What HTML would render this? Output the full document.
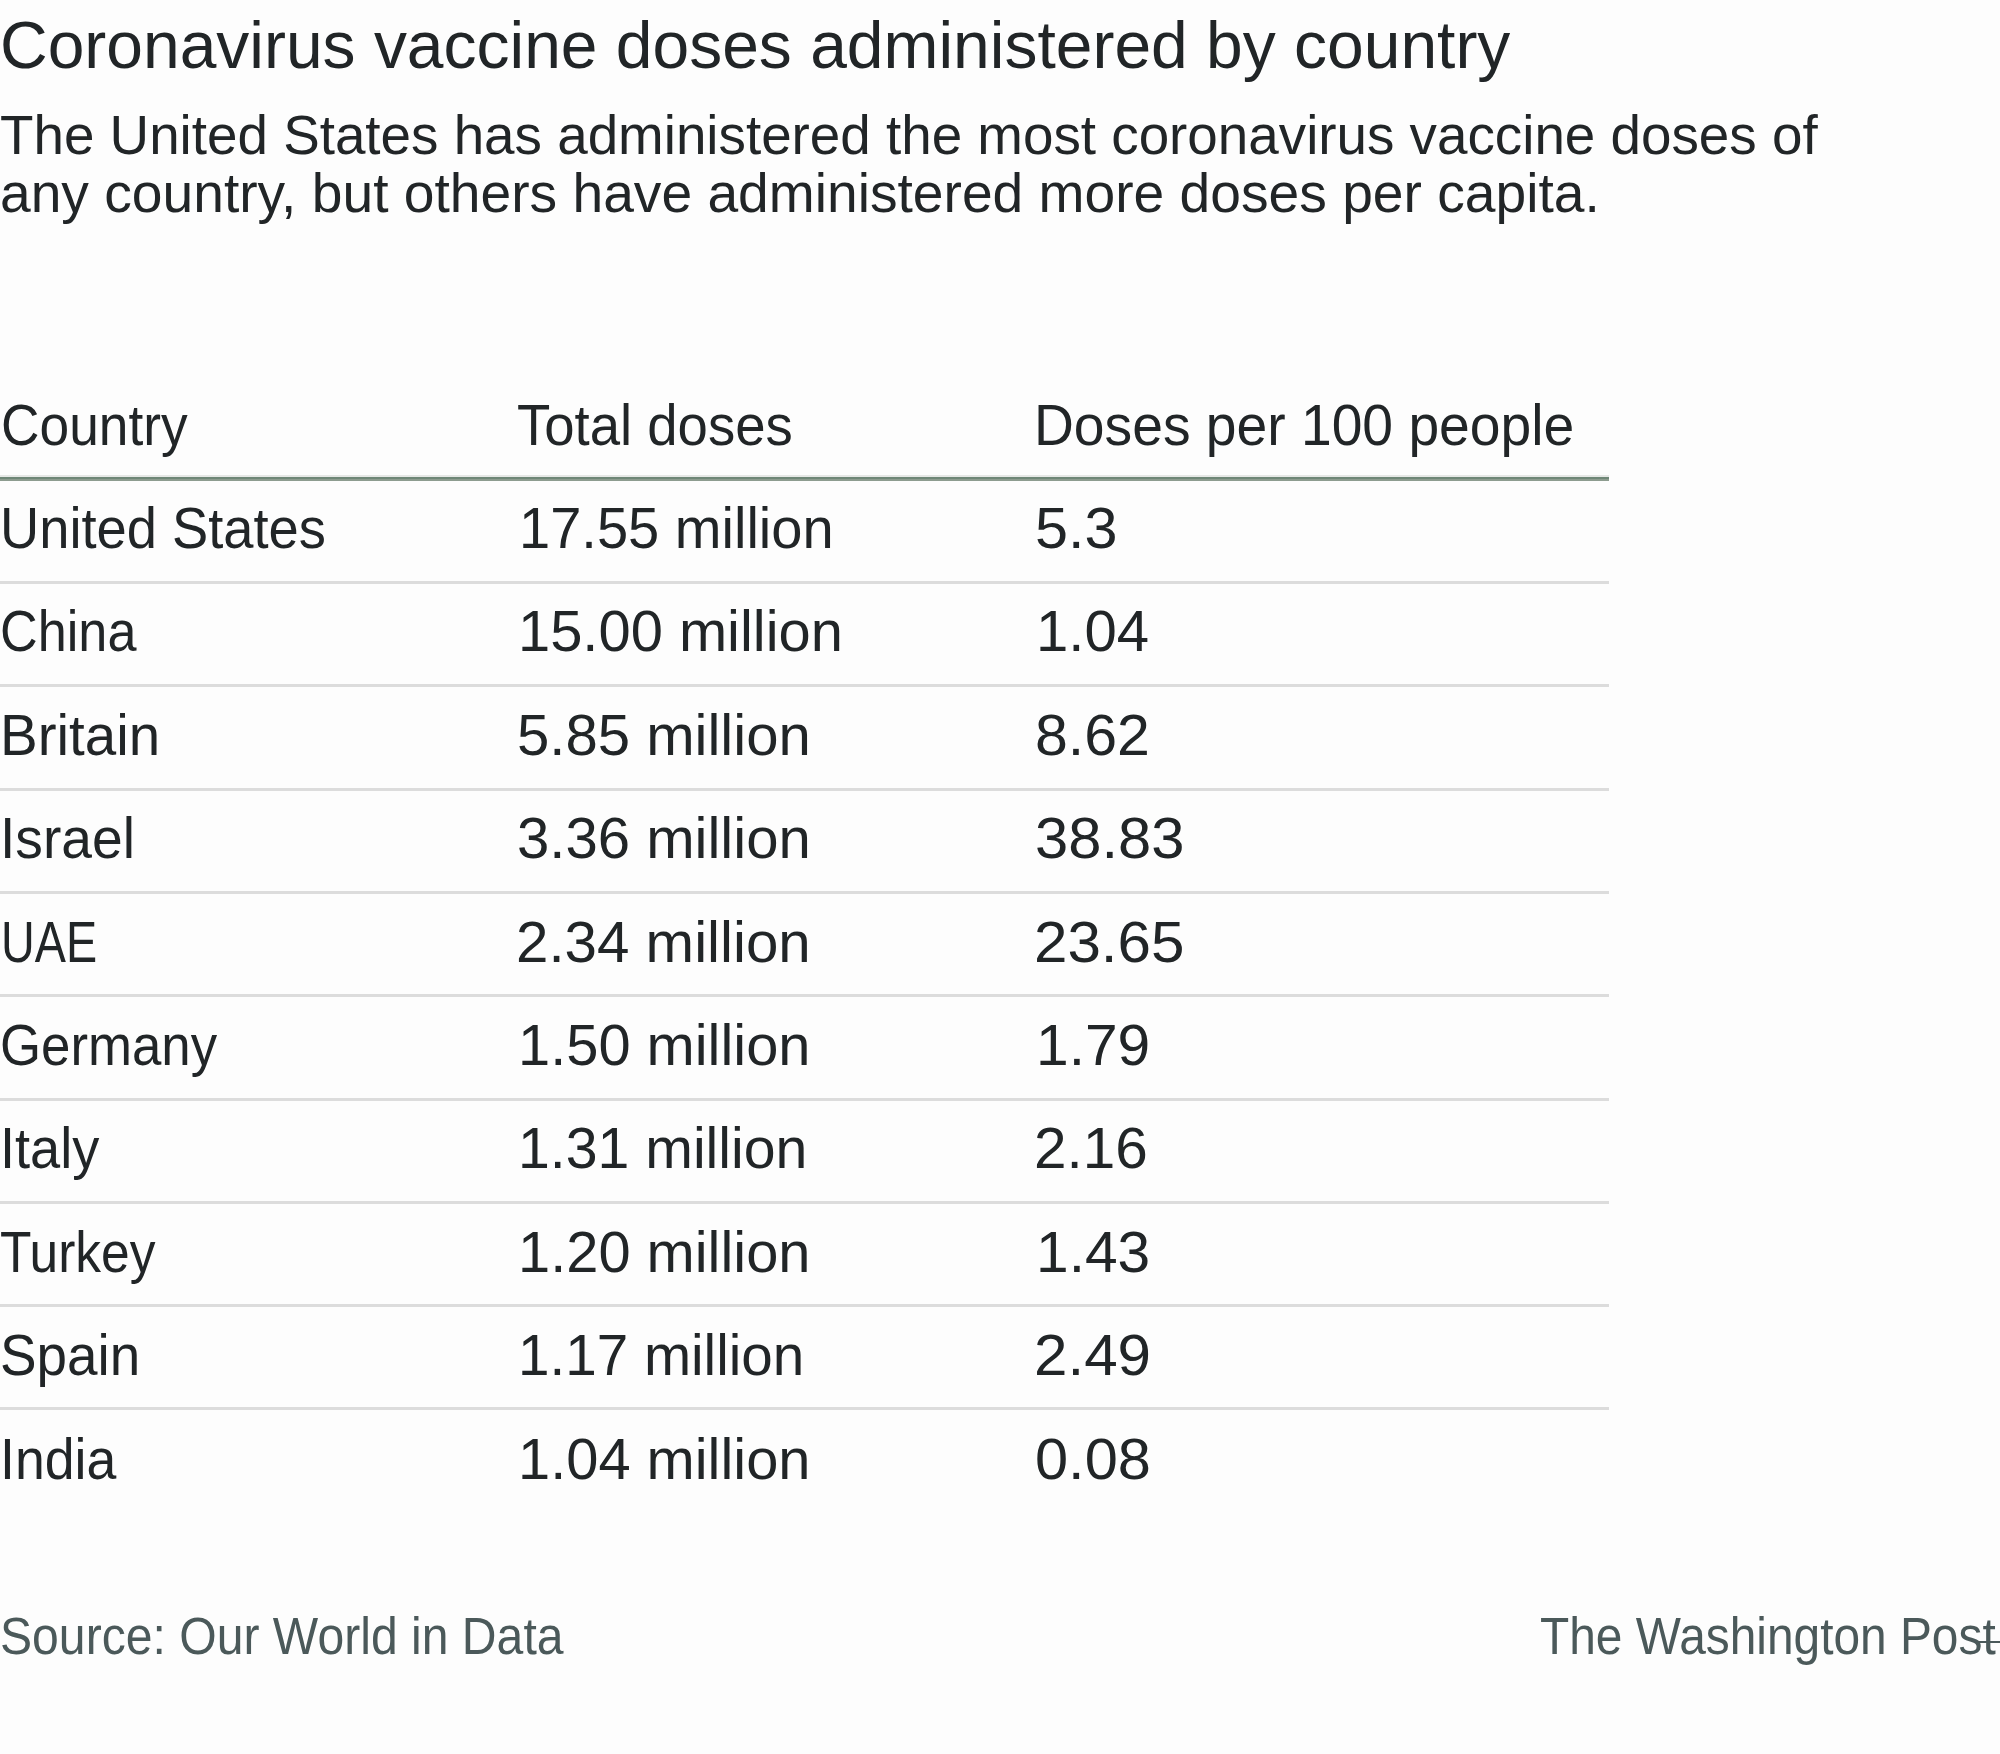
<!DOCTYPE html>
<html><head><meta charset="utf-8"><style>
html,body{margin:0;padding:0;}
body{width:2000px;height:1754px;background:#fdfdfd;position:relative;overflow:hidden;}
.t{position:absolute;font-family:"Liberation Sans",sans-serif;line-height:1;white-space:nowrap;transform-origin:0 0;}
.r{position:absolute;left:0;width:1609px;}
</style></head><body>
<div class="t" style="left:0.00px;top:12.00px;font-size:66px;color:#212527;transform:scaleX(0.9993)">Coronavirus vaccine doses administered by country</div>
<div class="t" style="left:0.00px;top:108.00px;font-size:55px;color:#212527;transform:scaleX(0.9959)">The United States has administered the most coronavirus vaccine doses of</div>
<div class="t" style="left:-0.01px;top:166.00px;font-size:55px;color:#212527;transform:scaleX(1.0031)">any country, but others have administered more doses per capita.</div>
<div class="t" style="left:0.67px;top:398.00px;font-size:56.5px;color:#212527;transform:scaleX(0.9436)">Country</div>
<div class="t" style="left:517.04px;top:398.00px;font-size:56.5px;color:#212527;transform:scaleX(0.9647)">Total doses</div>
<div class="t" style="left:1034.11px;top:398.00px;font-size:56.5px;color:#212527;transform:scaleX(0.9771)">Doses per 100 people</div>
<div class="t" style="left:0.16px;top:501.00px;font-size:56.5px;color:#212527;transform:scaleX(0.9610)">United States</div>
<div class="t" style="left:518.53px;top:501.00px;font-size:56.5px;color:#212527;transform:scaleX(0.9919)">17.55 million</div>
<div class="t" style="left:1035.20px;top:501.00px;font-size:56.5px;color:#212527;transform:scaleX(1.0500)">5.3</div>
<div class="t" style="left:0.23px;top:604.40px;font-size:56.5px;color:#212527;transform:scaleX(0.9241)">China</div>
<div class="t" style="left:518.40px;top:604.40px;font-size:56.5px;color:#212527;transform:scaleX(1.0242)">15.00 million</div>
<div class="t" style="left:1035.88px;top:604.40px;font-size:56.5px;color:#212527;transform:scaleX(1.0288)">1.04</div>
<div class="t" style="left:0.00px;top:707.80px;font-size:56.5px;color:#212527;transform:scaleX(1.0000)">Britain</div>
<div class="t" style="left:517.14px;top:707.80px;font-size:56.5px;color:#212527;transform:scaleX(1.0279)">5.85 million</div>
<div class="t" style="left:1035.21px;top:707.80px;font-size:56.5px;color:#212527;transform:scaleX(1.0448)">8.62</div>
<div class="t" style="left:0.12px;top:811.20px;font-size:56.5px;color:#212527;transform:scaleX(0.9767)">Israel</div>
<div class="t" style="left:517.14px;top:811.20px;font-size:56.5px;color:#212527;transform:scaleX(1.0279)">3.36 million</div>
<div class="t" style="left:1035.19px;top:811.20px;font-size:56.5px;color:#212527;transform:scaleX(1.0562)">38.83</div>
<div class="t" style="left:0.69px;top:914.60px;font-size:56.5px;color:#212527;transform:scaleX(0.8273)">UAE</div>
<div class="t" style="left:516.11px;top:914.60px;font-size:56.5px;color:#212527;transform:scaleX(1.0315)">2.34 million</div>
<div class="t" style="left:1034.11px;top:914.60px;font-size:56.5px;color:#212527;transform:scaleX(1.0640)">23.65</div>
<div class="t" style="left:0.20px;top:1018.00px;font-size:56.5px;color:#212527;transform:scaleX(0.9345)">Germany</div>
<div class="t" style="left:518.41px;top:1018.00px;font-size:56.5px;color:#212527;transform:scaleX(1.0234)">1.50 million</div>
<div class="t" style="left:1035.84px;top:1018.00px;font-size:56.5px;color:#212527;transform:scaleX(1.0388)">1.79</div>
<div class="t" style="left:0.20px;top:1121.40px;font-size:56.5px;color:#212527;transform:scaleX(0.9592)">Italy</div>
<div class="t" style="left:518.45px;top:1121.40px;font-size:56.5px;color:#212527;transform:scaleX(1.0126)">1.31 million</div>
<div class="t" style="left:1034.19px;top:1121.40px;font-size:56.5px;color:#212527;transform:scaleX(1.0352)">2.16</div>
<div class="t" style="left:0.09px;top:1224.80px;font-size:56.5px;color:#212527;transform:scaleX(0.9112)">Turkey</div>
<div class="t" style="left:518.41px;top:1224.80px;font-size:56.5px;color:#212527;transform:scaleX(1.0234)">1.20 million</div>
<div class="t" style="left:1035.85px;top:1224.80px;font-size:56.5px;color:#212527;transform:scaleX(1.0385)">1.43</div>
<div class="t" style="left:0.09px;top:1328.20px;font-size:56.5px;color:#212527;transform:scaleX(0.9710)">Spain</div>
<div class="t" style="left:518.49px;top:1328.20px;font-size:56.5px;color:#212527;transform:scaleX(1.0018)">1.17 million</div>
<div class="t" style="left:1034.11px;top:1328.20px;font-size:56.5px;color:#212527;transform:scaleX(1.0644)">2.49</div>
<div class="t" style="left:0.25px;top:1431.60px;font-size:56.5px;color:#212527;transform:scaleX(0.9492)">India</div>
<div class="t" style="left:518.41px;top:1431.60px;font-size:56.5px;color:#212527;transform:scaleX(1.0234)">1.04 million</div>
<div class="t" style="left:1035.19px;top:1431.60px;font-size:56.5px;color:#212527;transform:scaleX(1.0538)">0.08</div>
<div class="t" style="left:-0.39px;top:1611.00px;font-size:51px;color:#4b595a;transform:scaleX(0.9437)">Source: Our World in Data</div>
<div class="t" style="left:1539.56px;top:1611.00px;font-size:51px;color:#4b595a;transform:scaleX(0.9382)">The Washington Post</div>
<div class="r" style="top:475px;height:2px;background:#e6e8e6"></div>
<div class="r" style="top:477px;height:2px;background:#6f8777"></div>
<div class="r" style="top:479px;height:2px;background:#8d9c8f"></div>
<div class="r" style="top:581.0px;height:3px;background:#dcdcdc"></div>
<div class="r" style="top:684.3px;height:3px;background:#dcdcdc"></div>
<div class="r" style="top:787.6px;height:3px;background:#dcdcdc"></div>
<div class="r" style="top:890.9px;height:3px;background:#dcdcdc"></div>
<div class="r" style="top:994.2px;height:3px;background:#dcdcdc"></div>
<div class="r" style="top:1097.5px;height:3px;background:#dcdcdc"></div>
<div class="r" style="top:1200.8px;height:3px;background:#dcdcdc"></div>
<div class="r" style="top:1304.1px;height:3px;background:#dcdcdc"></div>
<div class="r" style="top:1407.4px;height:3px;background:#dcdcdc"></div>
<div style="position:absolute;left:1977px;top:1641px;width:23px;height:2px;background:#4b595a"></div>
</body></html>
